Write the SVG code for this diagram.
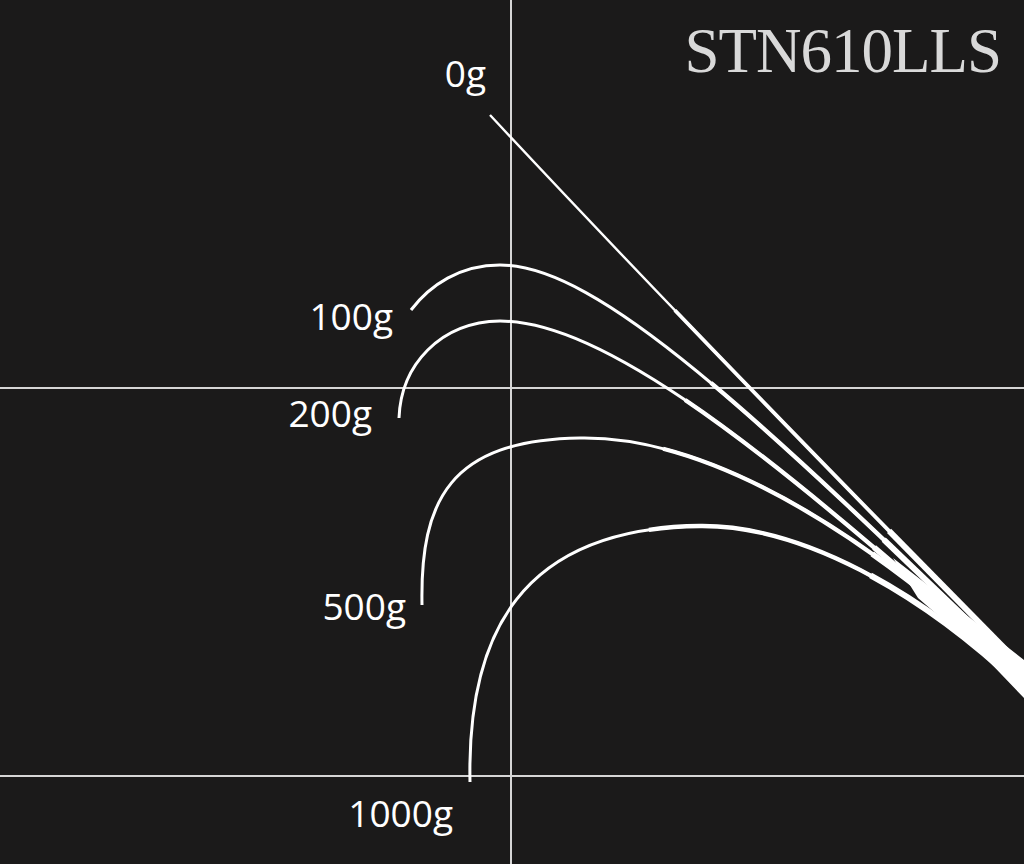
<svg xmlns="http://www.w3.org/2000/svg" width="1024" height="864" viewBox="0 0 1024 864">
  <style>
    .grid { stroke: #d6d6d6; stroke-width: 2; fill: none; }
    .curve { stroke: #ffffff; stroke-width: 3; fill: none; stroke-linecap: butt; }
    .mid { stroke-width: 4.3; stroke-dasharray: 0 45 100; }
    .end { stroke-width: 5.8; stroke-dasharray: 0 75 100; }
    .thin { stroke-width: 2.4; }
    .lbl { font-family: "Open Sans", "Noto Sans", sans-serif; font-size: 37px; fill: #ffffff; text-anchor: end; }
    .title { font-family: "Liberation Serif", "Times New Roman", serif; font-size: 63px; fill: #d9d9d9; text-anchor: end; letter-spacing: -1px; }
  </style>
  <rect x="0" y="0" width="1024" height="864" fill="#1b1a1a"/>
  <g id="grid">
    <line class="grid" x1="511" y1="0" x2="511" y2="864"/>
    <line class="grid" x1="0" y1="388" x2="1024" y2="388"/>
    <line class="grid" x1="0" y1="776" x2="1024" y2="776"/>
  </g>
  <g id="title">
    <text class="title" x="1001" y="72">STN610LLS</text>
  </g>
  <g id="connectors">
    <path class="curve thin" d="M490,115 Q690,330 1024,668" pathLength="100"/>
    <path class="curve mid" d="M490,115 Q690,330 1024,668" pathLength="100" style="stroke-dasharray:0 35 100;stroke-width:3.8"/>
    <path class="curve end" d="M490,115 Q690,330 1024,668" pathLength="100"/>

    <path class="curve" d="M411,310 C430,285 460,265 500,265 C600,265 760,420 1024,674" pathLength="100"/>
    <path class="curve mid" d="M411,310 C430,285 460,265 500,265 C600,265 760,420 1024,674" pathLength="100"/>
    <path class="curve end" d="M411,310 C430,285 460,265 500,265 C600,265 760,420 1024,674" pathLength="100"/>

    <path class="curve" d="M399,418 C401,365 440,322 500,321 C600,321 760,440 1024,680" pathLength="100"/>
    <path class="curve mid" d="M399,418 C401,365 440,322 500,321 C600,321 760,440 1024,680" pathLength="100"/>
    <path class="curve end" d="M399,418 C401,365 440,322 500,321 C600,321 760,440 1024,680" pathLength="100"/>

    <path class="curve" d="M422,605 C420,500 450,440 580,438 C700,436 850,518 1024,678" pathLength="100"/>
    <path class="curve mid" d="M422,605 C420,500 450,440 580,438 C700,436 850,518 1024,678" pathLength="100"/>
    <path class="curve end" d="M422,605 C420,500 450,440 580,438 C700,436 850,518 1024,678" pathLength="100"/>

    <path class="curve" d="M470,782 C467,635 520,528 700,526 C800,525 920,590 1024,690" pathLength="100"/>
    <path class="curve mid" d="M470,782 C467,635 520,528 700,526 C800,525 920,590 1024,690" pathLength="100"/>
    <path class="curve end" d="M470,782 C467,635 520,528 700,526 C800,525 920,590 1024,690" pathLength="100"/>

    <path id="tip" fill="#ffffff" d="M893,558 L1024,660 L1024,698 L978,650 L918,598 Z"/>
  </g>
  <g id="label-0g"><text class="lbl" x="486" y="87">0g</text></g>
  <g id="label-100g"><text class="lbl" x="393" y="330">100g</text></g>
  <g id="label-200g"><text class="lbl" x="372" y="427">200g</text></g>
  <g id="label-500g"><text class="lbl" x="406" y="620">500g</text></g>
  <g id="label-1000g"><text class="lbl" x="453" y="827">1000g</text></g>
</svg>
